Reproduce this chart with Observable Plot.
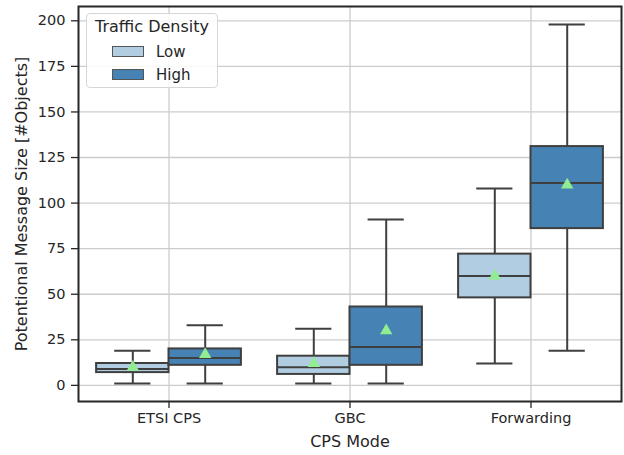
<!DOCTYPE html>
<html><head><meta charset="utf-8">
<script src="https://cdn.jsdelivr.net/npm/d3@7"></script>
<script src="https://cdn.jsdelivr.net/npm/@observablehq/plot@0.6"></script>
<style>
body{margin:0;background:#fff;font-family:"DejaVu Sans",sans-serif;}
#wrap{position:relative;width:624px;height:455px;}
#wrap g[aria-label="x-axis label"] text, #wrap g[aria-label="y-axis label"] text{font-size:16px;}
#legend{position:absolute;left:86px;top:13px;width:132px;height:75px;box-sizing:border-box;border:1px solid #d6d6d6;border-radius:4px;background:rgba(255,255,255,0.85);color:#262626;font-size:15px;}
#legend .title{position:absolute;left:0;right:0;top:3px;text-align:center;font-size:16px;}
#legend .item{position:absolute;left:25px;height:18px;line-height:18px;}
#legend .sw{display:inline-block;width:32px;height:11px;border:1px solid #555;vertical-align:middle;margin-right:12px;box-sizing:border-box;position:relative;top:-1px;}
</style>
</head><body><div id="wrap"></div>
<script>
const categories = ["ETSI CPS", "GBC", "Forwarding"];
const densities = ["Low", "High"];
const colors = ["#b0cde1", "#4682b4"];
// values per category, [Low, High]
const whiskerMin = [[1, 1], [1, 1], [12, 19]];
const q1 = [[7, 11], [6, 11], [48, 86]];
const median = [[9, 15], [10, 21], [60, 111]];
const q3 = [[12, 20], [16, 43], [72, 131]];
const whiskerMax = [[19, 33], [31, 91], [108, 198]];
const mean = [[10, 17], [12, 30], [60, 110]];
const yTicks = [0, 25, 50, 75, 100, 125, 150, 175, 200];

const rows = [];
categories.forEach((c, i) => densities.forEach((d, j) => {
  const x1 = i - 0.4 + j * 0.4, x2 = x1 + 0.4, xc = (x1 + x2) / 2;
  rows.push({c, d, x1, x2, xc, lo: whiskerMin[i][j], q1: q1[i][j], med: median[i][j],
    q3: q3[i][j], hi: whiskerMax[i][j], mean: mean[i][j]});
}));

const edge = "#3f3f3f";
const sw = 2;
const plot = Plot.plot({
  width: 624, height: 455,
  marginLeft: 78, marginRight: 3, marginTop: 6, marginBottom: 54,
  style: {fontFamily: "DejaVu Sans, sans-serif", fontSize: "14.5px", color: "#262626", background: "#fff"},
  x: {domain: [-0.5, 2.5]},
  y: {domain: [-8.85, 207.85]},
  color: {domain: densities, range: colors},
  marks: [
    Plot.gridX([0, 1, 2], {stroke: "#cccccc", strokeOpacity: 1, strokeWidth: 1.3}),
    Plot.gridY(yTicks, {stroke: "#cccccc", strokeOpacity: 1, strokeWidth: 1.3}),
    Plot.ruleX(rows, {x: "xc", y1: "q3", y2: "hi", stroke: edge, strokeWidth: sw}),
    Plot.ruleX(rows, {x: "xc", y1: "lo", y2: "q1", stroke: edge, strokeWidth: sw}),
    Plot.ruleY(rows, {y: "hi", x1: d => d.xc - 0.1, x2: d => d.xc + 0.1, stroke: edge, strokeWidth: sw}),
    Plot.ruleY(rows, {y: "lo", x1: d => d.xc - 0.1, x2: d => d.xc + 0.1, stroke: edge, strokeWidth: sw}),
    Plot.rect(rows, {x1: "x1", x2: "x2", y1: "q1", y2: "q3", fill: "d", stroke: edge, strokeWidth: sw}),
    Plot.ruleY(rows, {y: "med", x1: "x1", x2: "x2", stroke: edge, strokeWidth: sw}),
    Plot.dot(rows, {x: "xc", y: "mean", symbol: "triangle", r: 4.6, fill: "#90ee90", stroke: "none"}),
    Plot.axisX({ticks: [0, 1, 2], tickFormat: i => categories[i], tickSize: 7, tickPadding: 4, strokeWidth: 1.3,
      stroke: "#262626", label: "CPS Mode", labelAnchor: "center", labelArrow: "none", labelOffset: 45}),
    Plot.axisY({ticks: yTicks, tickSize: 7, tickPadding: 6, stroke: "#262626", strokeWidth: 1.3,
      label: "Potentional Message Size [#Objects]", labelAnchor: "center", labelArrow: "none", labelOffset: 63}),
    Plot.frame({stroke: "#262626", strokeWidth: 2})
  ]
});
const wrap = document.getElementById("wrap");
wrap.appendChild(plot);
const leg = document.createElement("div");
leg.id = "legend";
leg.innerHTML = `<div class="title">Traffic Density</div>` +
  densities.map((d, j) => `<div class="item" style="top:${29 + j * 23}px"><span class="sw" style="background:${colors[j]}"></span>${d}</div>`).join("");
wrap.appendChild(leg);
</script>
</body></html>
